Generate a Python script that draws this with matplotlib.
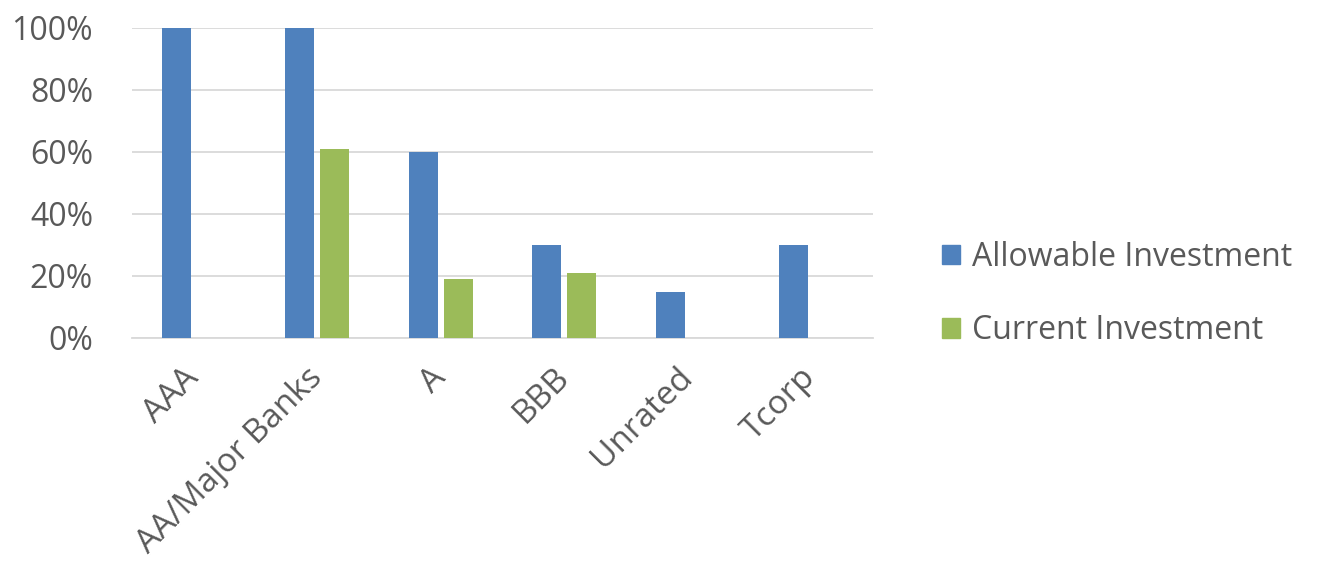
import matplotlib
matplotlib.use("Agg")
import matplotlib.pyplot as plt
import numpy as np
from matplotlib.patches import Patch

categories = ["AAA", "AA/Major Banks", "A", "BBB", "Unrated", "Tcorp"]
allowable = [100, 100, 60, 30, 15, 30]
current = [0, 61, 19, 21, 0, 0]
series_names = ["Allowable Investment", "Current Investment"]
y_ticks = [0, 20, 40, 60, 80, 100]

blue = "#4F81BD"
green = "#9BBB59"
text_gray = "#595959"
grid_gray = "#D9D9D9"
font_size = 23

plt.rcParams["font.family"] = ["Open Sans", "DejaVu Sans"]

fig = plt.figure(figsize=(13.3, 5.73), dpi=100)
ax = fig.add_axes([132 / 1330, 1 - 338 / 573, (873 - 132) / 1330, (338 - 28) / 573])

x = np.arange(len(categories))
width = 0.235
offset = width / 2 + 0.025
ax.bar(x - offset, allowable, width, color=blue, zorder=3)
ax.bar(x + offset, current, width, color=green, zorder=3)

ax.set_xlim(-0.5, len(categories) - 0.5)
ax.set_ylim(0, 100)
ax.set_yticks(y_ticks)
ax.set_yticklabels([f"{v}%" for v in y_ticks])
ax.yaxis.grid(True, color=grid_gray, linewidth=1.3, zorder=0)
ax.set_axisbelow(True)

for side in ["left", "right", "top"]:
    ax.spines[side].set_visible(False)
ax.spines["bottom"].set_color(grid_gray)
ax.spines["bottom"].set_linewidth(1.3)

ax.tick_params(axis="y", length=0, pad=28, labelsize=font_size, labelcolor=text_gray)
ax.tick_params(axis="x", length=0, pad=25, labelsize=font_size + 1, labelcolor=text_gray)
for lbl in ax.get_yticklabels():
    lbl.set_verticalalignment("center_baseline")
ax.set_xticks(x)
ax.set_xticklabels(categories, rotation=45, ha="right", va="center",
                   rotation_mode="anchor")

handles = [Patch(color=blue), Patch(color=green)]
leg = ax.legend(handles, series_names, loc="center left",
                bbox_to_anchor=(942 / 1330, 1 - 294 / 573),
                bbox_transform=fig.transFigure, frameon=False,
                fontsize=font_size, handlelength=0.56, handleheight=0.56,
                handletextpad=0.37, labelspacing=1.26, borderpad=0,
                borderaxespad=0)
for t in leg.get_texts():
    t.set_color(text_gray)

fig.savefig("out.png", dpi=100, facecolor="white")
